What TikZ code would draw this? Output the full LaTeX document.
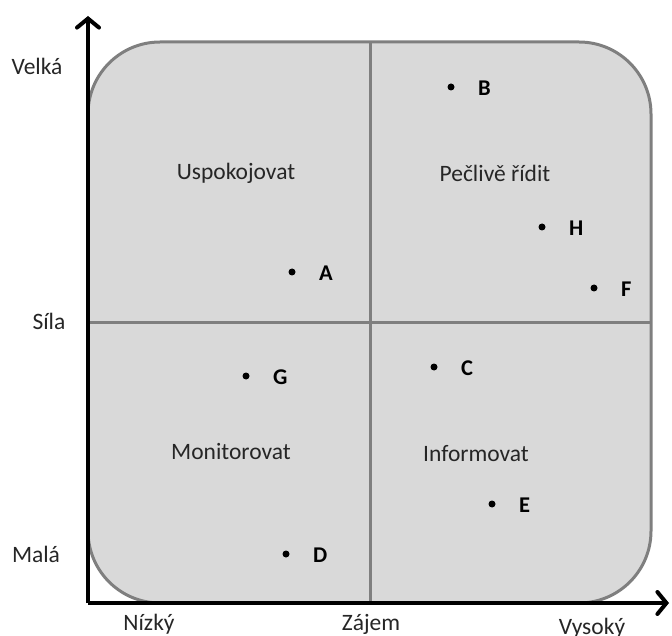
\documentclass[tikz,border=0pt]{standalone}
\usepackage{fontspec}
\setmainfont{Carlito}
\usetikzlibrary{arrows.meta}
\definecolor{quadfill}{HTML}{D9D9D9}
\definecolor{quadline}{HTML}{7F7F7F}
\definecolor{txt}{HTML}{262626}
\begin{document}
\begin{tikzpicture}[x=1pt,y=-1pt,
  lbl/.style={font=\fontsize{23.5}{26}\selectfont, text=txt, inner sep=0pt},
  pt/.style={circle, fill=black, inner sep=0pt, minimum size=7pt},
  ptlbl/.style={font=\fontsize{22.5}{26}\selectfont\bfseries, inner sep=0pt},
  axis/.style={line width=4pt, -{Straight Barb[length=9pt,width=22pt,line cap=round]}}]
\useasboundingbox (0,0) rectangle (672,636);
% background rounded square
\draw[fill=quadfill, draw=quadline, line width=3pt, rounded corners=72pt]
  (88,42) rectangle (651,603);
\coordinate (vtop) at (370,42);
\coordinate (vbot) at (370,603);
\coordinate (hl) at (88,323);
\coordinate (hr) at (651,323);
\draw[quadline, line width=3pt] (vtop) -- (vbot);
\draw[quadline, line width=3pt] (hl) -- (hr);
% axes
\coordinate (o) at (88,603);
\coordinate (ytip) at (88,16);
\coordinate (xtip) at (669,603);
\draw[axis] (o) -- (ytip);
\draw[axis] (o) -- (xtip);
% quadrant labels
\node[lbl] (q1) at (236,173) {Uspokojovat};
\node[lbl] (q2) at (495,173) {Pečlivě řídit};
\node[lbl] (q3) at (231,452) {Monitorovat};
\node[lbl] (q4) at (476,454) {Informovat};
% axis labels
\node[lbl] (velka) at (37,66) {Velká};
\node[lbl] (sila) at (49,321) {Síla};
\node[lbl] (mala) at (36,554) {Malá};
\node[lbl] (nizky) at (149,624) {Nízký};
\node[lbl] (zajem) at (371,624) {Zájem};
\node[lbl] (vysoky) at (592,628) {Vysoký};
% points
\foreach \n/\x/\y in {B/451/87, H/542/227, F/594/288, A/292/272, G/246/376, C/434/367, E/492/504, D/286/554}{
  \node[pt] (p\n) at (\x,\y) {};
  \node[ptlbl, anchor=west] (l\n) at (\x+27,\y+1) {\n};
}
\end{tikzpicture}
\end{document}
